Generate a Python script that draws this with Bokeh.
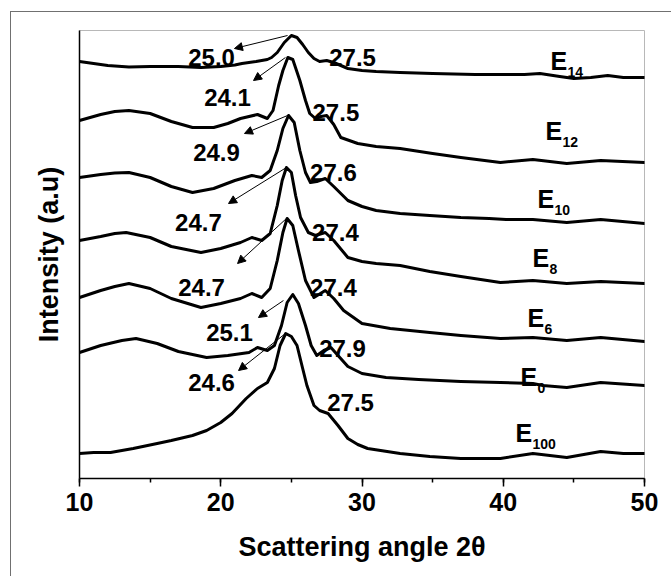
from bokeh.plotting import figure
from bokeh.models import Range1d, SingleIntervalTicker, FixedTicker, Arrow, NormalHead, ColumnDataSource
from bokeh.core.properties import value
from bokeh.embed import file_html
from bokeh.resources import INLINE

FONT = "Liberation Sans"

# ---------------- data, stacked intensities in a.u. ----------------
tt_E14 = [10, 11, 12, 13.5, 15, 17, 18.6, 20, 21, 21.5, 22.5, 23.3, 23.6, 24, 24.5, 25, 25.4, 25.8, 26.2, 26.6, 27, 27.5,
          28, 28.5, 29, 30, 31, 32.7, 35, 38, 40, 41.5, 42.6, 44, 45, 46.2, 47.4, 48.5, 50]
in_E14 = [417, 415, 413, 411.5, 412, 412, 411, 412, 413.5, 415, 417, 419, 421, 426, 436, 443, 441, 434, 426, 420, 417, 418,
          416, 413, 410, 408, 407, 406, 405, 404, 404, 404, 405, 402, 400, 401, 403, 401, 401]

tt_E12 = [10, 11.5, 12.5, 13.5, 15, 16.5, 18, 19.5, 20.5, 21.4, 22.6, 23.3, 23.7, 24.1, 24.4, 24.75, 25.1, 25.6, 26.0, 26.3,
          26.7, 27.1, 27.5, 28, 28.5, 29.7, 31, 32.7, 35, 37, 39.8, 42.1, 44.5, 46.9, 50]
in_E12 = [358, 364, 367, 368, 365, 357, 351, 351, 355, 360, 364, 360, 368, 393, 408, 421, 419, 398, 378, 365,
          360, 362, 363, 354, 341, 335, 332, 330, 325, 321, 316, 319, 315, 318, 316]

tt_E10 = [10, 11.5, 12.5, 13.5, 15, 16.5, 18, 19.5, 21, 22.2, 22.9, 23.5, 24, 24.4, 24.8, 25.2, 25.6, 26, 26.35,
          26.8, 27.4, 28, 29, 30, 31, 32.7, 34.8, 37, 39, 40.2, 42.1, 44.5, 46.9, 50]
in_E10 = [301, 304, 305.5, 306, 301, 292, 286, 290, 298, 303, 301, 308, 328, 350, 363, 356, 328, 306, 296,
          297, 300, 292, 278, 272, 268, 265, 263, 261, 260, 259, 259, 256, 259, 255]

tt_E8 = [10, 11.5, 12.5, 13.3, 15, 16.5, 18.6, 20, 21.4, 22.2, 22.9, 23.5, 24, 24.35, 24.65, 25, 25.3, 25.65, 26.2,
         26.7, 27.4, 28, 29, 30, 31, 32.7, 34.8, 37, 39.8, 42.1, 44.5, 46.9, 50]
in_E8 = [238, 242, 245, 246, 241, 232, 226, 230, 236, 241, 238, 245, 273, 298, 311, 306, 283, 261, 246,
         243, 246, 238, 221, 217, 215, 213, 207, 202, 196, 198, 195, 197, 195]

tt_E6 = [10, 11.5, 12.5, 13.5, 15, 16.5, 18.6, 20, 21.4, 22.2, 22.9, 23.5, 24, 24.4, 24.7, 25.1, 25.5, 26, 26.6,
         27.4, 28, 28.7, 30, 32, 34.8, 37, 39.8, 42.1, 44.5, 46.9, 50]
in_E6 = [181, 188, 192, 195, 190, 180, 171, 175, 180, 185, 181, 190, 218, 246, 260, 253, 228, 198, 181,
         188, 180, 168, 155, 150, 146, 143, 140, 141, 138, 141, 137]

tt_E0 = [10, 11.5, 13, 14, 15.5, 17, 19, 20.5, 22, 22.6, 23.3, 23.8, 24.3, 24.7, 25.1, 25.5, 26, 26.4, 26.8,
         27.3, 27.8, 28.3, 29, 30, 31.7, 34, 37, 39.8, 42.1, 42.8, 44.5, 46.9, 50]
in_E0 = [126, 133, 138, 140, 135, 127, 121, 123, 126, 131, 128, 133, 153, 176, 184, 175, 153, 133, 123,
         128, 131, 123, 112, 105, 101, 99, 97, 96, 95, 93, 91, 96, 93]

tt_E100 = [10, 11, 12.2, 13.8, 15.5, 16.5, 18, 19, 20, 20.8, 21.8, 22.6, 23.3, 23.8, 24.2, 24.6, 25.0, 25.4,
           25.8, 26.1, 26.6, 27.0, 27.6, 28.3, 29.0, 29.7, 30.4, 32.7, 34.8, 37, 39.8, 42.1, 44.5, 46.9, 48.5, 50]
in_E100 = [25, 26, 26, 30, 35, 38, 43, 48, 56, 65, 80, 90, 96, 110, 133, 145, 142, 133,
           110, 93, 73, 68, 65, 53, 40, 34, 30, 25, 22, 20, 20, 25, 21, 27, 25, 25]

# sample names (E + subscript) and where they are written
sample_main = ["E", "E", "E", "E", "E", "E", "E"]
sample_sub = ["14", "12", "10", "8", "6", "0", "100"]
sample_x = [43.35, 42.99, 42.42, 42.07, 41.72, 41.22, 40.87]
sample_y = [418, 348, 280, 221, 161, 102, 46]

# main-peak labels (with arrows) and second-peak labels
peak1_text = ["25.0", "24.1", "24.9", "24.7", "24.7", "25.1", "24.6"]
peak1_x = [19.35, 20.48, 19.70, 18.42, 18.64, 20.62, 19.35]
peak1_y = [421, 381, 326, 256, 191, 146, 96]
arrow_x0 = [24.73, 24.58, 24.73, 24.65, 24.65, 24.44, 24.58]
arrow_y0 = [443, 421, 363, 311, 260, 178, 145]
arrow_x1 = [20.97, 22.32, 21.68, 20.55, 21.19, 22.67, 21.26]
arrow_y1 = [430, 398, 345, 275, 215, 161, 108]

peak2_text = ["27.5", "27.5", "27.6", "27.4", "27.4", "27.9", "27.5"]
peak2_x = [29.33, 28.15, 27.98, 28.12, 27.98, 28.62, 29.19]
peak2_y = [421, 366, 306, 246, 191, 130, 76]

# ---------------- figure ----------------
p = figure(width=661, height=565, x_range=Range1d(10, 50), y_range=Range1d(0, 448),
           output_backend="svg", toolbar_location=None,
           min_border_left=68, min_border_right=28, min_border_top=18, min_border_bottom=99)
p.styles = {"margin-left": "10px", "margin-top": "11px",
            "border-left": "1px solid #707070", "border-top": "1px solid #707070"}

p.xgrid.visible = False
p.ygrid.visible = False
p.outline_line_color = "#b8b8b8"
p.outline_line_width = 1
p.background_fill_color = "white"
p.border_fill_color = "white"

xa = p.xaxis[0]
xa.ticker = SingleIntervalTicker(interval=10, num_minor_ticks=2)
xa.axis_line_color = "black"
xa.axis_line_width = 1.5
xa.major_tick_out = 8
xa.major_tick_in = 0
xa.minor_tick_out = 4
xa.minor_tick_in = 0
xa.major_tick_line_width = 1.5
xa.minor_tick_line_width = 1.5
xa.major_label_text_font = FONT
xa.major_label_text_font_size = "25px"
xa.major_label_text_font_style = "bold"
xa.major_label_text_color = "black"
xa.major_label_standoff = 6
xa.axis_label = "Scattering angle 2θ"
xa.axis_label_text_font = FONT
xa.axis_label_text_font_size = "27px"
xa.axis_label_text_font_style = "bold"
xa.axis_label_text_color = "black"
xa.axis_label_standoff = 18

ya = p.yaxis[0]
ya.ticker = FixedTicker(ticks=[])
ya.axis_line_color = "black"
ya.axis_line_width = 1.5
ya.major_tick_out = 0
ya.major_tick_in = 0
ya.minor_tick_out = 0
ya.minor_tick_in = 0
ya.axis_label = "Intensity (a.u)"
ya.axis_label_text_font = FONT
ya.axis_label_text_font_size = "27px"
ya.axis_label_text_font_style = "bold"
ya.axis_label_text_color = "black"
ya.axis_label_standoff = 16

curves = [(tt_E14, in_E14), (tt_E12, in_E12), (tt_E10, in_E10), (tt_E8, in_E8),
          (tt_E6, in_E6), (tt_E0, in_E0), (tt_E100, in_E100)]
for xs, ys in curves:
    p.line(xs, ys, line_color="black", line_width=3, line_join="round", line_cap="round")

arrow_src = ColumnDataSource(dict(x0=arrow_x0, y0=arrow_y0, x1=arrow_x1, y1=arrow_y1))
p.add_layout(Arrow(source=arrow_src, x_start="x0", y_start="y0", x_end="x1", y_end="y1",
                   line_color="black", line_width=1,
                   end=NormalHead(size=8, fill_color="black", line_color="black", line_width=1)))

lab_kw = dict(text_font=value(FONT), text_font_style="bold", text_color="black",
              text_baseline="alphabetic")
p.text(x=peak1_x, y=peak1_y, text=peak1_text, text_align="center", text_font_size="24px", **lab_kw)
p.text(x=peak2_x, y=peak2_y, text=peak2_text, text_align="center", text_font_size="24px", **lab_kw)
p.text(x=sample_x, y=sample_y, text=sample_main, text_align="left", text_font_size="25px", **lab_kw)
p.text(x=sample_x, y=sample_y, text=sample_sub, text_align="left", text_font_size="14px",
       x_offset=17, y_offset=11, **lab_kw)

open("out.html", "w").write(file_html(p, INLINE))
